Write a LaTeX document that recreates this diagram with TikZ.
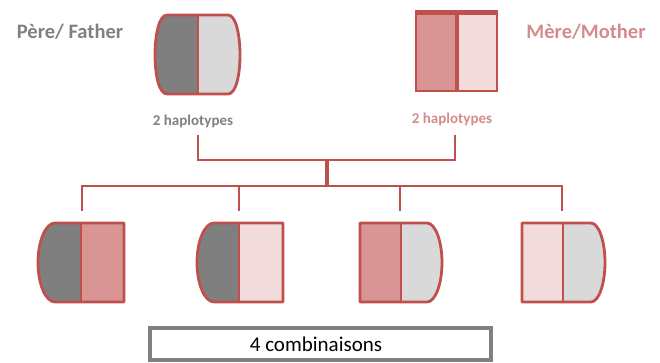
\documentclass[tikz,border=0pt]{standalone}
\usepackage{fontspec}
\setmainfont{Carlito}
\definecolor{hred}{HTML}{C0504D}
\definecolor{hdark}{HTML}{7F7F7F}
\definecolor{hlight}{HTML}{D9D9D9}
\definecolor{hpink}{HTML}{D99594}
\definecolor{hpale}{HTML}{F2DCDB}
\definecolor{greytext}{HTML}{808080}
\definecolor{pinktext}{HTML}{D48B8A}
\definecolor{boxgrey}{HTML}{808080}

% outlines of the haplotype shapes
\def\fatherpath{(167,15) -- (228,15) .. controls (236,15) and (240,35) .. (240,55) .. controls (240,75) and (236,94) .. (228,94) -- (167,94) .. controls (159,94) and (155,75) .. (155,55) .. controls (155,35) and (159,15) .. (167,15) -- cycle}
\def\childA{(55,223) -- (124,223) -- (124,302) -- (55,302) .. controls (45.6,302) and (38,284) .. (38,262.5) .. controls (38,241) and (45.6,223) .. (55,223) -- cycle}
\def\childB{(214,223) -- (283,223) -- (283,302) -- (214,302) .. controls (204.6,302) and (197,284) .. (197,262.5) .. controls (197,241) and (204.6,223) .. (214,223) -- cycle}
\def\childC{(360,223) -- (427,223) .. controls (435.3,223) and (442,241) .. (442,262.5) .. controls (442,284) and (435.3,302) .. (427,302) -- (360,302) -- cycle}
\def\childD{(522,223) -- (591,223) .. controls (598.7,223) and (605,241) .. (605,262.5) .. controls (605,284) and (598.7,302) .. (591,302) -- (522,302) -- cycle}

\tikzset{
  outline/.style={draw=hred, line width=2.8pt, line join=round},
  divider/.style={draw=hred, line width=2pt},
  link/.style={draw=hred, line width=2.4pt},
  parentlbl/.style={font=\bfseries\fontsize{20.5}{24}\selectfont, inner sep=0pt},
  haplbl/.style={font=\bfseries\fontsize{15}{18}\selectfont, inner sep=0pt},
}

\begin{document}
\begin{tikzpicture}[x=1pt, y=-1pt]
\useasboundingbox (0,0) rectangle (660,362);

% ---- father: two haplotypes in a barrel shape
\begin{scope}
  \clip \fatherpath;
  \fill[hdark] (150,10) rectangle (198,100);
  \fill[hlight] (198,10) rectangle (246,100);
\end{scope}
\path[outline] \fatherpath;
\draw[divider] (198,15) -- (198,94);

% ---- mother: two haplotypes in a square
\fill[hpink] (416,11) rectangle (457,91);
\fill[hpale] (457,11) rectangle (497,91);
\draw[draw=hred, line width=2.4pt] (416,12) rectangle (497,91);
\draw[draw=hred, line width=4.5pt] (414.8,12.5) -- (498.2,12.5);
\draw[draw=hred, line width=3.2pt] (457,12) -- (457,91);

% ---- labels
\node[parentlbl, text=greytext] (pere) at (70,32) {Père/ Father};
\node[parentlbl, text=pinktext] (mere) at (586,32) {Mère/Mother};
\node[haplbl, text=greytext] (haplo-f) at (193,121) {2 haplotypes};
\node[haplbl, text=pinktext] (haplo-m) at (452,119) {2 haplotypes};

% ---- connector points
\coordinate (f-drop) at (198,135);
\coordinate (m-drop) at (455,135);
\coordinate (f-bend) at (198,160);
\coordinate (m-bend) at (455,160);
\coordinate (hub-top) at (327,160);
\coordinate (hub-bot) at (327,186);
\coordinate (bar-l) at (82,186);
\coordinate (bar-2) at (239,186);
\coordinate (bar-3) at (400,186);
\coordinate (bar-r) at (562,186);
\coordinate (c1-top) at (82,211);
\coordinate (c2-top) at (239,211);
\coordinate (c3-top) at (400,211);
\coordinate (c4-top) at (562,211);

% ---- connectors
\draw[link, line join=miter] (f-drop) -- (f-bend) -- (m-bend) -- (m-drop);
\draw[link, line width=3.4pt] (hub-top) -- (hub-bot);
\draw[link, line join=miter] (c1-top) -- (bar-l) -- (bar-r) -- (c4-top);
\draw[link, line width=2pt] (bar-2) -- (c2-top);
\draw[link, line width=2pt] (bar-3) -- (c3-top);

% ---- the four children
\begin{scope}
  \clip \childA;
  \fill[hdark] (30,215) rectangle (82,310);
  \fill[hpink] (82,215) rectangle (130,310);
\end{scope}
\path[outline] \childA;
\draw[divider] (81,223) -- (81,302);

\begin{scope}
  \clip \childB;
  \fill[hdark] (190,215) rectangle (239,310);
  \fill[hpale] (239,215) rectangle (290,310);
\end{scope}
\path[outline] \childB;
\draw[divider] (239,223) -- (239,302);

\begin{scope}
  \clip \childC;
  \fill[hpink] (355,215) rectangle (401,310);
  \fill[hlight] (401,215) rectangle (450,310);
\end{scope}
\path[outline] \childC;
\draw[divider] (401,223) -- (401,302);

\begin{scope}
  \clip \childD;
  \fill[hpale] (515,215) rectangle (563,310);
  \fill[hlight] (563,215) rectangle (612,310);
\end{scope}
\path[outline] \childD;
\draw[divider] (563,223) -- (563,302);

% ---- summary box
\node[draw=boxgrey, line width=3.2pt, minimum width=341pt, minimum height=32pt,
      inner sep=0pt] (combi) at (320.5,344) {};
\node[inner sep=0pt, font=\fontsize{21}{24}\selectfont] (combi-text) at (316,344.5) {4 combinaisons};
\end{tikzpicture}
\end{document}
